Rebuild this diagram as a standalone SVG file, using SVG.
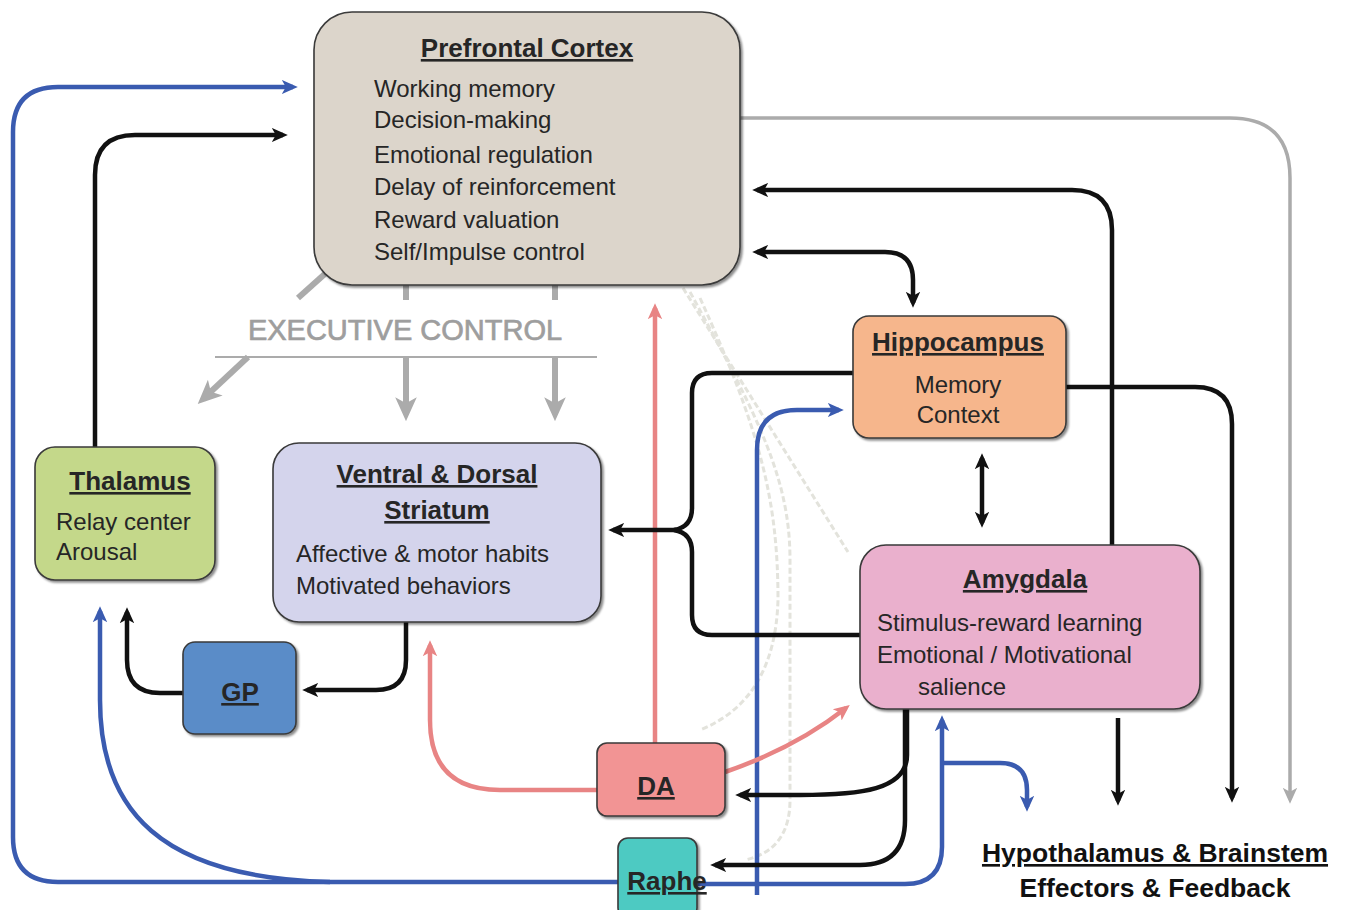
<svg xmlns="http://www.w3.org/2000/svg" width="1350" height="910" viewBox="0 0 1350 910">
<defs>
<style>
.t{font-family:"Liberation Sans",Arial,sans-serif;fill:#262626}
.ti{font-weight:bold;font-size:26px;text-decoration:underline;text-anchor:middle}
.b{font-size:24px}
.box{stroke:#3a3a3a;stroke-width:1.6}
.k{fill:none;stroke:#111;stroke-width:4.5}
.bl{fill:none;stroke:#3a5bb0;stroke-width:4.5}
.rd{fill:none;stroke:#e88484;stroke-width:4.5}
.gr{fill:none;stroke:#ababab;stroke-width:3.5}
.gx{fill:none;stroke:#ababab;stroke-width:6}
.fa{fill:none;stroke:#e3e3dc;stroke-width:3;stroke-dasharray:6 3}
</style>
<filter id="sh" x="-10%" y="-10%" width="120%" height="120%">
<feDropShadow dx="2" dy="2" stdDeviation="1.2" flood-color="#000" flood-opacity="0.45"/>
</filter>
<marker id="mk" viewBox="0 0 10 10" refX="7" refY="5" markerWidth="16" markerHeight="16" markerUnits="userSpaceOnUse" orient="auto-start-reverse"><path d="M0,0.5 L10,5 L0,9.5 L2.5,5 z" fill="#111"/></marker>
<marker id="mb" viewBox="0 0 10 10" refX="7" refY="5" markerWidth="16" markerHeight="16" markerUnits="userSpaceOnUse" orient="auto-start-reverse"><path d="M0,0.5 L10,5 L0,9.5 L2.5,5 z" fill="#3a5bb0"/></marker>
<marker id="mr" viewBox="0 0 10 10" refX="7" refY="5" markerWidth="16" markerHeight="16" markerUnits="userSpaceOnUse" orient="auto-start-reverse"><path d="M0,0.5 L10,5 L0,9.5 L2.5,5 z" fill="#e88484"/></marker>
<marker id="mg" viewBox="0 0 10 10" refX="7" refY="5" markerWidth="16" markerHeight="16" markerUnits="userSpaceOnUse" orient="auto-start-reverse"><path d="M0,0.5 L10,5 L0,9.5 L2.5,5 z" fill="#ababab"/></marker>
<marker id="mgx" viewBox="0 0 10 10" refX="7" refY="5" markerWidth="24" markerHeight="24" markerUnits="userSpaceOnUse" orient="auto-start-reverse"><path d="M0,0.5 L10,5 L0,9.5 L2.5,5 z" fill="#ababab"/></marker>
</defs>
<rect width="1350" height="910" fill="#fff"/>

<g id="connectors">
<path class="fa" d="M683,288 L848,552"/>
<path class="fa" d="M690,292 C760,420 790,480 790,560 V800 Q790,850 745,860"/>
<path class="fa" d="M700,298 C760,430 778,500 778,600 Q775,700 700,730"/>
<path class="gx" d="M327,272 L298,298"/>
<path class="gx" d="M406,285 V300"/>
<path class="gx" d="M555,285 V300"/>
<path fill="none" stroke="#ababab" stroke-width="2" d="M215,357 H597"/>
<path class="gx" d="M248,357 L203,399" marker-end="url(#mgx)"/>
<path class="gx" d="M406,357 V414" marker-end="url(#mgx)"/>
<path class="gx" d="M555,357 V414" marker-end="url(#mgx)"/>
<path class="gr" d="M740,118 H1230 Q1290,118 1290,178 V799" marker-end="url(#mg)"/>
<path class="bl" d="M618,882 H58 Q13,882 13,837 V132 Q13,87 58,87 H293" marker-end="url(#mb)"/>
<path class="bl" d="M330,882 C160,878 100,810 100,700 V611" marker-end="url(#mb)"/>
<path class="bl" d="M697,884 H905 Q942,884 942,847 V720" marker-end="url(#mb)"/>
<path class="bl" d="M942,763 H1000 Q1027,763 1027,790 V807" marker-end="url(#mb)"/>
<path class="bl" d="M757,895 V450 Q757,410 797,410 H839" marker-end="url(#mb)"/>
<path class="rd" d="M597,790 H500 Q430,790 430,720 V645" marker-end="url(#mr)"/>
<path class="rd" d="M655,743 V308" marker-end="url(#mr)"/>
<path class="rd" d="M725,772 Q795,748 846,708" marker-end="url(#mr)"/>
<path class="k" d="M95,447 V175 Q95,135 135,135 H283" marker-end="url(#mk)"/>
<path class="k" d="M183,693 H160 Q127,693 127,660 V612" marker-end="url(#mk)"/>
<path class="k" d="M406,622 V660 Q406,690 376,690 H307" marker-end="url(#mk)"/>
<path class="k" d="M907,709 V755 C907,790 860,795 800,795 H740" marker-end="url(#mk)"/>
<path class="k" d="M905,709 V820 Q905,865 860,865 H715" marker-end="url(#mk)"/>
<path class="k" d="M1112,545 V230 Q1112,190 1072,190 H757" marker-end="url(#mk)"/>
<path class="k" d="M757,252 H885 Q913,252 913,280 V303" marker-start="url(#mk)" marker-end="url(#mk)"/>
<path class="k" d="M1066,387 H1195 Q1232,387 1232,424 V798" marker-end="url(#mk)"/>
<path class="k" d="M1118,718 V801" marker-end="url(#mk)"/>
<path class="k" d="M982,458 V523" marker-start="url(#mk)" marker-end="url(#mk)"/>
<path class="k" d="M853,373 H712 Q692,373 692,393 V508 Q692,527 674,530 Q692,533 692,552 V615 Q692,635 712,635 H860"/>
<path class="k" d="M676,530 H613" marker-end="url(#mk)"/>
</g>

<g id="pfc">
<rect class="box" x="314" y="12" width="426" height="273" rx="38" fill="#dcd5cb" filter="url(#sh)"/>
<text class="t ti" x="527" y="57">Prefrontal Cortex</text>
<text class="t b" x="374" y="97">Working memory</text>
<text class="t b" x="374" y="128">Decision-making</text>
<text class="t b" x="374" y="163">Emotional regulation</text>
<text class="t b" x="374" y="195">Delay of reinforcement</text>
<text class="t b" x="374" y="228">Reward valuation</text>
<text class="t b" x="374" y="260">Self/Impulse control</text>
</g>

<g id="exec">
<text class="t" x="405" y="340" font-size="29" text-anchor="middle" style="fill:#9e9e9e;stroke:#9e9e9e;stroke-width:0.7">EXECUTIVE CONTROL</text>
</g>

<g id="thalamus">
<rect class="box" x="35" y="447" width="180" height="133" rx="20" fill="#c4d88a" filter="url(#sh)"/>
<text class="t ti" x="130" y="490">Thalamus</text>
<text class="t b" x="56" y="530">Relay center</text>
<text class="t b" x="56" y="560">Arousal</text>
</g>

<g id="striatum">
<rect class="box" x="273" y="443" width="328" height="179" rx="26" fill="#d4d4ec" filter="url(#sh)"/>
<text class="t ti" x="437" y="483">Ventral &amp; Dorsal</text>
<text class="t ti" x="437" y="519">Striatum</text>
<text class="t b" x="296" y="562">Affective &amp; motor habits</text>
<text class="t b" x="296" y="594">Motivated behaviors</text>
</g>

<g id="gp">
<rect class="box" x="183" y="642" width="113" height="92" rx="12" fill="#5a8cc8" filter="url(#sh)"/>
<text class="t ti" x="240" y="701">GP</text>
</g>

<g id="hippocampus">
<rect class="box" x="853" y="316" width="213" height="122" rx="16" fill="#f6b68c" filter="url(#sh)"/>
<text class="t ti" x="958" y="351">Hippocampus</text>
<text class="t b" x="958" y="393" text-anchor="middle">Memory</text>
<text class="t b" x="958" y="423" text-anchor="middle">Context</text>
</g>

<g id="amygdala">
<rect class="box" x="860" y="545" width="340" height="164" rx="26" fill="#eab0cd" filter="url(#sh)"/>
<text class="t ti" x="1025" y="588">Amygdala</text>
<text class="t b" x="877" y="631">Stimulus-reward learning</text>
<text class="t b" x="877" y="663">Emotional / Motivational</text>
<text class="t b" x="918" y="695">salience</text>
</g>

<g id="da">
<rect class="box" x="597" y="743" width="128" height="73" rx="10" fill="#f29494" filter="url(#sh)"/>
<text class="t ti" x="656" y="795">DA</text>
</g>

<g id="raphe">
<rect class="box" x="618" y="838" width="79" height="80" rx="10" fill="#4ecac2" filter="url(#sh)"/>
<text class="t ti" x="667" y="890">Raphe</text>
</g>

<g id="hypothalamus">
<text class="t ti" x="1155" y="862" font-size="26.5" style="fill:#111;font-size:26.5px">Hypothalamus &amp; Brainstem</text>
<text class="t" x="1155" y="897" font-size="26.5" font-weight="bold" text-anchor="middle" style="fill:#111">Effectors &amp; Feedback</text>
</g>
</svg>
